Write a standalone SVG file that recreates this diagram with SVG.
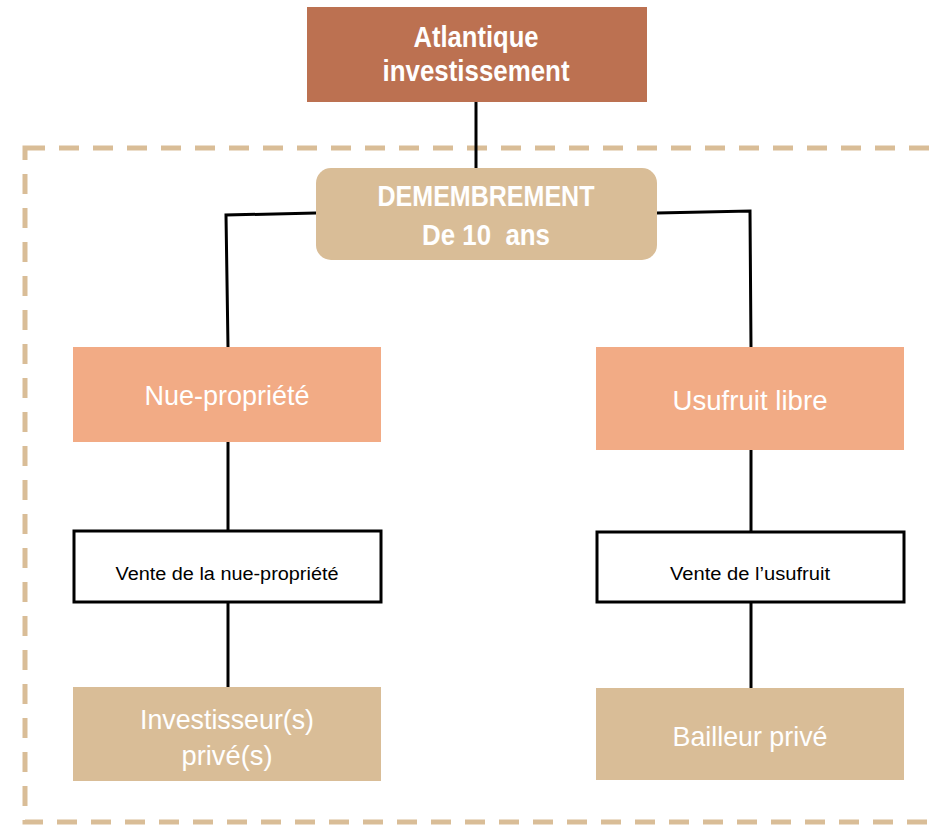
<svg xmlns="http://www.w3.org/2000/svg" width="938" height="825" viewBox="0 0 938 825">
<style>
.t{font-family:"Liberation Sans",Arial,sans-serif;fill:#fff;text-anchor:middle}
.b{font-weight:bold;font-size:29px}
.n{font-size:28px}
.s{font-family:"Liberation Sans",Arial,sans-serif;font-size:18px;fill:#000;text-anchor:middle}
.c{fill:none;stroke:#000;stroke-width:3}
</style>
<rect x="25" y="148" width="930" height="674" fill="none" stroke="#D9BD97" stroke-width="5" stroke-dasharray="20 14"/>
<g id="connectors">
<path class="c" d="M476 102 V168"/>
<path class="c" d="M316 213 L226 215 L228 347"/>
<path class="c" d="M657 213 L750 211 L751 347"/>
<path class="c" d="M228 442 V531"/>
<path class="c" d="M751 450 V532"/>
<path class="c" d="M228 602 V688"/>
<path class="c" d="M751 602 V688"/>
</g>
<g id="atlantique">
<rect x="307" y="7" width="340" height="95" fill="#BC7151"/>
<text class="t b" x="476" y="47" textLength="125" lengthAdjust="spacingAndGlyphs">Atlantique</text>
<text class="t b" x="476" y="81" textLength="187" lengthAdjust="spacingAndGlyphs">investissement</text>
</g>
<g id="demembrement">
<rect x="316" y="168" width="341" height="92" rx="15" fill="#D9BD97"/>
<text class="t b" x="486" y="206" textLength="217" lengthAdjust="spacingAndGlyphs">DEMEMBREMENT</text>
<text class="t b" x="486" y="245" textLength="128" lengthAdjust="spacingAndGlyphs" xml:space="preserve" style="white-space:pre">De 10  ans</text>
</g>
<g id="nue">
<rect x="73" y="347" width="308" height="95" fill="#F2AB85"/>
<text class="t n" x="227" y="405" textLength="165" lengthAdjust="spacingAndGlyphs">Nue-propriété</text>
</g>
<g id="usufruit">
<rect x="596" y="347" width="308" height="103" fill="#F2AB85"/>
<text class="t n" x="750" y="410" textLength="155" lengthAdjust="spacingAndGlyphs">Usufruit libre</text>
</g>
<g id="vente-nue">
<rect x="74" y="531" width="307" height="71" fill="#fff" stroke="#000" stroke-width="3"/>
<text class="s" x="227" y="580" textLength="223" lengthAdjust="spacingAndGlyphs">Vente de la nue-propriété</text>
</g>
<g id="vente-usufruit">
<rect x="597" y="532" width="307" height="70" fill="#fff" stroke="#000" stroke-width="3"/>
<text class="s" x="750" y="580" textLength="160" lengthAdjust="spacingAndGlyphs">Vente de l’usufruit</text>
</g>
<g id="investisseurs">
<rect x="73" y="687" width="308" height="94" fill="#D9BD97"/>
<text class="t n" x="227" y="729" textLength="174" lengthAdjust="spacingAndGlyphs">Investisseur(s)</text>
<text class="t n" x="227" y="765" textLength="91" lengthAdjust="spacingAndGlyphs">privé(s)</text>
</g>
<g id="bailleur">
<rect x="596" y="688" width="308" height="92" fill="#D9BD97"/>
<text class="t n" x="750" y="746" textLength="155" lengthAdjust="spacingAndGlyphs">Bailleur privé</text>
</g>
</svg>
